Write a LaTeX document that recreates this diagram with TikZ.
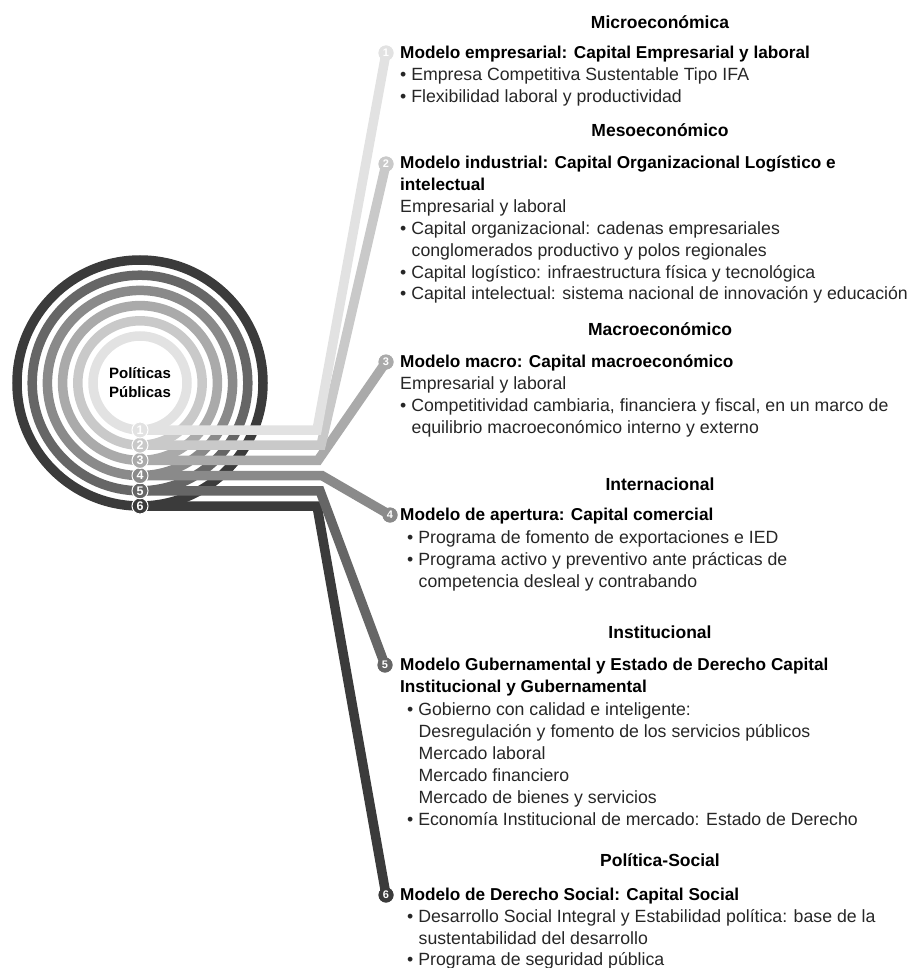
\documentclass[tikz,border=0pt]{standalone}
\usepackage{fontspec}
\setmainfont{Liberation Sans}
\definecolor{g1}{HTML}{E2E2E2}
\definecolor{g2}{HTML}{C9C9C9}
\definecolor{g3}{HTML}{AAAAAA}
\definecolor{g4}{HTML}{8A8A8A}
\definecolor{g5}{HTML}{666666}
\definecolor{g6}{HTML}{3B3B3B}
\definecolor{txt}{HTML}{262626}
\begin{document}
\begin{tikzpicture}[x=1pt,y=-1pt,
  head/.style={font=\fontsize{17.5}{20}\selectfont\bfseries, anchor=base, inner sep=0},
  ttl/.style={font=\fontsize{17.2}{20}\selectfont\bfseries, anchor=base west, inner sep=0},
  body/.style={font=\fontsize{17.7}{20}\selectfont, text=txt, anchor=base west, inner sep=0},
  ring/.style={line width=9.5pt, draw=#1},
  tail/.style={line width=9.5pt, draw=#1, line join=miter},
  badge/.style={circle, fill=#1, text=white, inner sep=0, minimum size=15pt,
    font=\fontsize{11}{11}\selectfont\bfseries},
  rbadge/.style={badge=#1, draw=white, line width=1pt, minimum size=16pt,
    font=\fontsize{12.5}{12.5}\selectfont\bfseries},
]
\useasboundingbox (0,0) rectangle (907,968);

% concentric rings
\coordinate (c) at (140,383);
\draw[ring=g6] (c) circle (123);
\draw[ring=g5] (c) circle (107.8);
\draw[ring=g4] (c) circle (92.6);
\draw[ring=g3] (c) circle (77.4);
\draw[ring=g2] (c) circle (62.2);
\draw[ring=g1] (c) circle (47);
\node[font=\fontsize{15}{19}\selectfont\bfseries, align=center] (pp) at (c) {Políticas\\Públicas};

% start points at the bottom of each ring
\coordinate (n1) at (140,430);
\coordinate (n2) at (140,445.2);
\coordinate (n3) at (140,460.4);
\coordinate (n4) at (140,475.6);
\coordinate (n5) at (140,490.8);
\coordinate (n6) at (140,506);

% bends
\coordinate (k1) at (317,430);
\coordinate (k2) at (321,445.2);
\coordinate (k3) at (318,460.4);
\coordinate (k4) at (322,475.6);
\coordinate (k5) at (320,490.8);
\coordinate (k6) at (317,506);

% end badges next to each block
\node[badge=g1] (b1) at (386,53) {1};
\node[badge=g2] (b2) at (386,164) {2};
\node[badge=g3] (b3) at (386,362) {3};
\node[badge=g4] (b4) at (390,515) {4};
\node[badge=g5] (b5) at (385,665) {5};
\node[badge=g6] (b6) at (386,895) {6};

% tails
\draw[tail=g6] (n6) -- (k6) -- (b6.center);
\draw[tail=g5] (n5) -- (k5) -- (b5.center);
\draw[tail=g4] (n4) -- (k4) -- (b4.center);
\draw[tail=g3] (n3) -- (k3) -- (b3.center);
\draw[tail=g2] (n2) -- (k2) -- (b2.center);
\draw[tail=g1] (n1) -- (k1) -- (b1.center);

% redraw end badges on top
\node[badge=g1] at (b1) {1};
\node[badge=g2] at (b2) {2};
\node[badge=g3] at (b3) {3};
\node[badge=g4] at (b4) {4};
\node[badge=g5] at (b5) {5};
\node[badge=g6] at (b6) {6};

% numbered badges on the rings
\node[rbadge=g6] (r6) at (n6) {6};
\node[rbadge=g5] (r5) at (n5) {5};
\node[rbadge=g4] (r4) at (n4) {4};
\node[rbadge=g3] (r3) at (n3) {3};
\node[rbadge=g2] (r2) at (n2) {2};
\node[rbadge=g1] (r1) at (n1) {1};

% ---- text blocks ----
\node[head] (h1) at (660,29) {Microeconómica};
\node[ttl] (t1) at (400,59) {Modelo empresarial: Capital Empresarial y laboral};
\node[body] (l1a) at (400,81) {• Empresa Competitiva Sustentable Tipo IFA};
\node[body] (l1b) at (400,103) {• Flexibilidad laboral y productividad};

\node[head] (h2) at (660,137) {Mesoeconómico};
\node[ttl] (t2) at (400,169) {Modelo industrial: Capital Organizacional Logístico e};
\node[ttl] (t2b) at (400,191) {intelectual};
\node[body] (l2a) at (400,213) {Empresarial y laboral};
\node[body] (l2b) at (400,235) {• Capital organizacional: cadenas empresariales};
\node[body] (l2c) at (411.5,256) {conglomerados productivo y polos regionales};
\node[body] (l2d) at (400,278) {• Capital logístico: infraestructura física y tecnológica};
\node[body] (l2e) at (400,299) {• Capital intelectual: sistema nacional de innovación y educación};

\node[head] (h3) at (660,335) {Macroeconómico};
\node[ttl] (t3) at (400,367) {Modelo macro: Capital macroeconómico};
\node[body] (l3a) at (400,389) {Empresarial y laboral};
\node[body] (l3b) at (400,411) {• Competitividad cambiaria, financiera y fiscal, en un marco de};
\node[body] (l3c) at (411.5,433) {equilibrio macroeconómico interno y externo};

\node[head] (h4) at (660,490) {Internacional};
\node[ttl] (t4) at (400,520) {Modelo de apertura: Capital comercial};
\node[body] (l4a) at (407,543) {• Programa de fomento de exportaciones e IED};
\node[body] (l4b) at (407,565) {• Programa activo y preventivo ante prácticas de};
\node[body] (l4c) at (418.5,587) {competencia desleal y contrabando};

\node[head] (h5) at (660,638) {Institucional};
\node[ttl] (t5) at (400,670) {Modelo Gubernamental y Estado de Derecho Capital};
\node[ttl] (t5b) at (400,692) {Institucional y Gubernamental};
\node[body] (l5a) at (407,715) {• Gobierno con calidad e inteligente:};
\node[body] (l5b) at (418.5,737) {Desregulación y fomento de los servicios públicos};
\node[body] (l5c) at (418.5,759) {Mercado laboral};
\node[body] (l5d) at (418.5,781) {Mercado financiero};
\node[body] (l5e) at (418.5,803) {Mercado de bienes y servicios};
\node[body] (l5f) at (407,825) {• Economía Institucional de mercado: Estado de Derecho};

\node[head] (h6) at (660,866) {Política-Social};
\node[ttl] (t6) at (400,900) {Modelo de Derecho Social: Capital Social};
\node[body] (l6a) at (407,922) {• Desarrollo Social Integral y Estabilidad política: base de la};
\node[body] (l6b) at (418.5,944) {sustentabilidad del desarrollo};
\node[body] (l6c) at (407,965) {• Programa de seguridad pública};
\end{tikzpicture}
\end{document}
